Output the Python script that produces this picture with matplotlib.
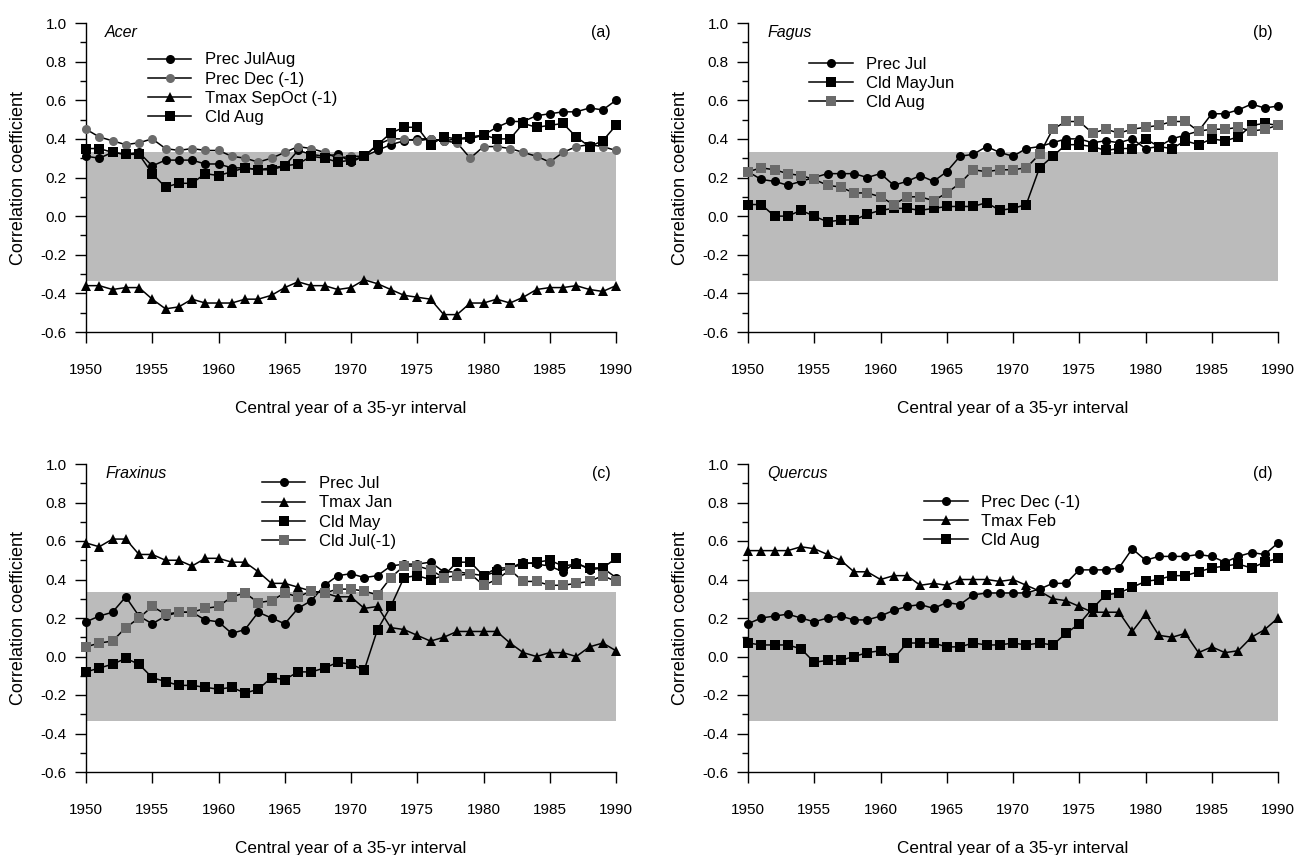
import numpy as np
import matplotlib
matplotlib.use('Agg')
import matplotlib.pyplot as plt
from matplotlib.ticker import MultipleLocator

plt.rcParams['font.family'] = ['Liberation Sans', 'DejaVu Sans']
plt.rcParams['axes.unicode_minus'] = False

# central years of the 35-yr windows
years = list(range(1950, 1991))
band = 0.334   # significance limit (shaded)

# (a) Acer
acer_prec_julaug = [0.31, 0.30, 0.33, 0.32, 0.33, 0.26, 0.29, 0.29, 0.29, 0.27, 0.27, 0.25, 0.25, 0.24, 0.25, 0.26, 0.34, 0.32, 0.31, 0.32, 0.28,
                    0.31, 0.34, 0.37, 0.39, 0.40, 0.40, 0.39, 0.40, 0.40, 0.42, 0.46, 0.49, 0.49, 0.52, 0.53, 0.54, 0.54, 0.56, 0.55, 0.60]
acer_prec_dec = [0.45, 0.41, 0.39, 0.37, 0.38, 0.40, 0.35, 0.34, 0.35, 0.34, 0.34, 0.31, 0.30, 0.28, 0.30, 0.33, 0.36, 0.35, 0.33, 0.30, 0.31,
                 0.31, 0.37, 0.40, 0.40, 0.39, 0.40, 0.39, 0.38, 0.30, 0.36, 0.36, 0.35, 0.33, 0.31, 0.28, 0.33, 0.36, 0.37, 0.36, 0.34]
acer_tmax_sepoct = [-0.36, -0.36, -0.38, -0.37, -0.37, -0.43, -0.48, -0.47, -0.43, -0.45, -0.45, -0.45, -0.43, -0.43, -0.41, -0.37, -0.34,
                    -0.36, -0.36, -0.38, -0.37, -0.33, -0.35, -0.38, -0.41, -0.42, -0.43, -0.51, -0.51, -0.45, -0.45, -0.43, -0.45,
                    -0.42, -0.38, -0.37, -0.37, -0.36, -0.38, -0.39, -0.36]
acer_cld_aug = [0.35, 0.35, 0.33, 0.32, 0.32, 0.22, 0.15, 0.17, 0.17, 0.22, 0.21, 0.23, 0.25, 0.24, 0.24, 0.26, 0.27, 0.31, 0.30, 0.28, 0.29,
                0.31, 0.37, 0.43, 0.46, 0.46, 0.37, 0.41, 0.40, 0.41, 0.42, 0.40, 0.40, 0.48, 0.46, 0.47, 0.48, 0.41, 0.36, 0.39, 0.47]

# (b) Fagus
fagus_prec_jul = [0.23, 0.19, 0.18, 0.16, 0.18, 0.20, 0.22, 0.22, 0.22, 0.20, 0.22, 0.16, 0.18, 0.21, 0.18, 0.23, 0.31, 0.32, 0.36, 0.33, 0.31,
                  0.35, 0.36, 0.38, 0.40, 0.40, 0.38, 0.39, 0.38, 0.40, 0.35, 0.36, 0.40, 0.42, 0.44, 0.53, 0.53, 0.55, 0.58, 0.56, 0.57]
fagus_cld_mayjun = [0.06, 0.06, 0.00, 0.00, 0.03, 0.00, -0.03, -0.02, -0.02, 0.01, 0.03, 0.04, 0.04, 0.03, 0.04, 0.05, 0.05, 0.05, 0.07,
                    0.03, 0.04, 0.06, 0.25, 0.31, 0.37, 0.37, 0.36, 0.34, 0.35, 0.35, 0.40, 0.36, 0.35, 0.39, 0.37, 0.40, 0.39, 0.41,
                    0.47, 0.48, 0.47]
fagus_cld_aug = [0.23, 0.25, 0.24, 0.22, 0.21, 0.19, 0.16, 0.15, 0.12, 0.12, 0.10, 0.06, 0.10, 0.10, 0.08, 0.12, 0.17, 0.24, 0.23, 0.24, 0.24,
                 0.25, 0.32, 0.45, 0.49, 0.49, 0.43, 0.45, 0.43, 0.45, 0.46, 0.47, 0.49, 0.49, 0.44, 0.45, 0.45, 0.46, 0.44, 0.45, 0.47]

# (c) Fraxinus
frax_prec_jul = [0.18, 0.21, 0.23, 0.31, 0.21, 0.17, 0.21, 0.23, 0.23, 0.19, 0.18, 0.12, 0.14, 0.23, 0.20, 0.17, 0.25, 0.29, 0.37, 0.42, 0.43,
                 0.41, 0.42, 0.47, 0.48, 0.48, 0.49, 0.44, 0.44, 0.43, 0.42, 0.46, 0.46, 0.49, 0.48, 0.47, 0.44, 0.49, 0.45, 0.46, 0.41]
frax_tmax_jan = [0.59, 0.57, 0.61, 0.61, 0.53, 0.53, 0.50, 0.50, 0.47, 0.51, 0.51, 0.49, 0.49, 0.44, 0.38, 0.38, 0.36, 0.34, 0.33, 0.31, 0.31,
                 0.25, 0.26, 0.15, 0.14, 0.11, 0.08, 0.10, 0.13, 0.13, 0.13, 0.13, 0.07, 0.02, 0.00, 0.02, 0.02, 0.00, 0.05, 0.07, 0.03]
frax_cld_may = [-0.08, -0.06, -0.04, -0.01, -0.04, -0.11, -0.13, -0.15, -0.15, -0.16, -0.17, -0.16, -0.19, -0.17, -0.11, -0.12, -0.08, -0.08,
                -0.06, -0.03, -0.04, -0.07, 0.14, 0.26, 0.41, 0.42, 0.40, 0.42, 0.49, 0.49, 0.42, 0.44, 0.46, 0.48, 0.49, 0.50, 0.47, 0.48,
                0.46, 0.46, 0.51]
frax_cld_jul = [0.05, 0.07, 0.08, 0.15, 0.20, 0.26, 0.22, 0.23, 0.23, 0.25, 0.26, 0.31, 0.33, 0.28, 0.29, 0.33, 0.31, 0.34, 0.33, 0.35, 0.35,
                0.34, 0.32, 0.41, 0.47, 0.47, 0.45, 0.41, 0.42, 0.43, 0.37, 0.40, 0.45, 0.39, 0.39, 0.37, 0.37, 0.38, 0.39, 0.42, 0.39]

# (d) Quercus
quer_prec_dec = [0.17, 0.20, 0.21, 0.22, 0.20, 0.18, 0.20, 0.21, 0.19, 0.19, 0.21, 0.24, 0.26, 0.27, 0.25, 0.28, 0.27, 0.32, 0.33, 0.33, 0.33,
                 0.33, 0.35, 0.38, 0.38, 0.45, 0.45, 0.45, 0.46, 0.56, 0.50, 0.52, 0.52, 0.52, 0.53, 0.52, 0.49, 0.52, 0.54, 0.53, 0.59]
quer_tmax_feb = [0.55, 0.55, 0.55, 0.55, 0.57, 0.56, 0.53, 0.50, 0.44, 0.44, 0.40, 0.42, 0.42, 0.37, 0.38, 0.37, 0.40, 0.40, 0.40, 0.39, 0.40,
                 0.37, 0.34, 0.30, 0.29, 0.26, 0.23, 0.23, 0.23, 0.13, 0.22, 0.11, 0.10, 0.12, 0.02, 0.05, 0.02, 0.03, 0.10, 0.14, 0.20]
quer_cld_aug = [0.07, 0.06, 0.06, 0.06, 0.04, -0.03, -0.02, -0.02, 0.00, 0.02, 0.03, -0.01, 0.07, 0.07, 0.07, 0.05, 0.05, 0.07, 0.06, 0.06,
                0.07, 0.06, 0.07, 0.06, 0.12, 0.17, 0.25, 0.32, 0.33, 0.36, 0.39, 0.40, 0.42, 0.42, 0.44, 0.46, 0.47, 0.48, 0.46, 0.49, 0.51]

gray = '#6b6b6b'
panels = [
    ('Acer', '(a)', [('Prec JulAug', acer_prec_julaug, 'o', 'black'),
                     ('Prec Dec (-1)', acer_prec_dec, 'o', gray),
                     ('Tmax SepOct (-1)', acer_tmax_sepoct, '^', 'black'),
                     ('Cld Aug', acer_cld_aug, 's', 'black')], (0.117, 0.905)),
    ('Fagus', '(b)', [('Prec Jul', fagus_prec_jul, 'o', 'black'),
                      ('Cld MayJun', fagus_cld_mayjun, 's', 'black'),
                      ('Cld Aug', fagus_cld_aug, 's', gray)], (0.116, 0.89)),
    ('Fraxinus', '(c)', [('Prec Jul', frax_prec_jul, 'o', 'black'),
                         ('Tmax Jan', frax_tmax_jan, '^', 'black'),
                         ('Cld May', frax_cld_may, 's', 'black'),
                         ('Cld Jul(-1)', frax_cld_jul, 's', gray)], (0.332, 0.96)),
    ('Quercus', '(d)', [('Prec Dec (-1)', quer_prec_dec, 'o', 'black'),
                        ('Tmax Feb', quer_tmax_feb, '^', 'black'),
                        ('Cld Aug', quer_cld_aug, 's', 'black')], (0.333, 0.90)),
]

W, H = 1296, 855
# axes boxes in pixels: left, top, right, bottom
boxes = [(86, 23, 616, 332), (748, 23, 1278, 332), (86, 464, 616, 772), (748, 464, 1278, 772)]
msizes = {'o': 6.5, 's': 7, '^': 7.5}

fig = plt.figure(figsize=(W / 100, H / 100), dpi=100)

for (name, tag, series, legpos), (l, t, r, b) in zip(panels, boxes):
    ax = fig.add_axes([l / W, 1 - b / H, (r - l) / W, (b - t) / H])
    ax.axhspan(-band, band, color='#bbbbbb', lw=0, zorder=0)
    for label, vals, mk, col in series:
        ax.plot(years, vals, color='black', lw=1.1, marker=mk, ms=msizes[mk],
                mfc=col, mec=col, mew=0, label=label, clip_on=False, zorder=3)
    ax.set_xlim(1950, 1990)
    ax.set_ylim(-0.6, 1.0)
    ax.xaxis.set_major_locator(MultipleLocator(5))
    ax.yaxis.set_major_locator(MultipleLocator(0.2))
    ax.yaxis.set_minor_locator(MultipleLocator(0.1))
    ax.yaxis.set_major_formatter(plt.FormatStrFormatter('%.1f'))
    ax.spines['top'].set_visible(False)
    ax.spines['right'].set_visible(False)
    for s in ['left', 'bottom']:
        ax.spines[s].set_linewidth(1.0)
    ax.tick_params(axis='x', length=8, width=1, pad=14, labelsize=11)
    ax.tick_params(axis='y', which='major', length=8, width=1, pad=6, labelsize=11)
    ax.tick_params(axis='y', which='minor', length=4.5, width=1)
    ax.set_xlabel('Central year of a 35-yr interval', fontsize=12.3)
    ax.xaxis.set_label_coords(0.5, -0.247)
    ax.xaxis.label.set_va('center')
    ax.set_ylabel('Correlation coefficient', fontsize=13)
    ax.yaxis.set_label_coords(-0.128, 0.5)
    ax.yaxis.label.set_va('center')
    ax.text(0.036, 0.97, name, style='italic', fontsize=11.5, transform=ax.transAxes, va='center')
    ax.text(0.99, 0.97, tag, fontsize=11.5, transform=ax.transAxes, va='center', ha='right')
    ax.legend(loc='upper left', bbox_to_anchor=legpos, frameon=False, fontsize=12, numpoints=1,
              handlelength=2.6, handletextpad=0.8, labelspacing=0.25, borderpad=0, borderaxespad=0)

fig.savefig('out.png', dpi=100)
